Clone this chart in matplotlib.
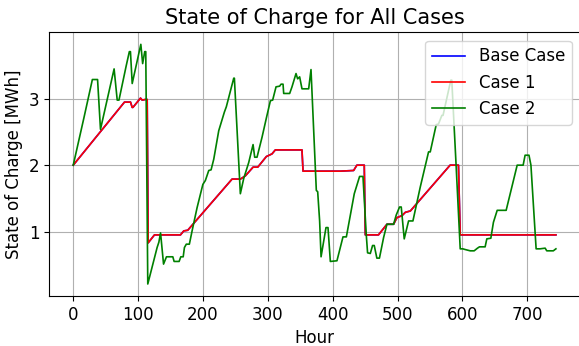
import matplotlib
matplotlib.use("Agg")
import matplotlib.pyplot as plt

# Breakpoints (hour, MWh)
case1_hours = [0, 79, 88.3, 90.9, 92, 103.7, 106.3, 111.4, 114, 115.5, 125.2, 165.3,
               170.4, 176.5, 244.8, 257.6, 265.4, 277.2, 284.4, 297.7, 306.4, 311.5,
               352.6, 354.2, 411.7, 432.2, 437.2, 448.6, 450.2, 470.5, 483.5, 493.8,
               499, 506.8, 511.9, 519.6, 580.9, 593.8, 596.5, 744]
case1_soc = [2.0, 2.95, 2.95, 2.87, 2.87, 3.01, 2.98, 2.99, 2.99, 0.83, 0.95, 0.95,
             1.01, 1.02, 1.79, 1.79, 1.84, 1.97, 1.97, 2.13, 2.17, 2.23,
             2.23, 1.91, 1.91, 1.92, 2.0, 2.0, 0.95, 0.95, 1.11, 1.11,
             1.21, 1.24, 1.29, 1.31, 2.0, 2.0, 0.95, 0.95]

base_hours = list(case1_hours)
base_soc = list(case1_soc)

case2_hours = [0, 16.4, 29.5, 37.5, 42, 63, 67.8, 70.5, 81.5, 86.5, 88.2, 90.9, 104.2,
               107, 110.2, 111.8, 114.9, 129.3, 132, 134.6, 139.2, 143.7, 153.5, 155.5,
               163.2, 165.8, 169.5, 171.4, 174.3, 179, 183.2, 190.9, 199.8, 203.7,
               208.9, 212.5, 216.6, 224.3, 233, 236, 247.4, 248.4, 257.6, 262.8,
               270.5, 277.2, 279.7, 283.3, 291, 297.7, 303.9, 307.4, 312.6, 318.2,
               320.3, 323.4, 324.4, 333.6, 337.2, 343.4, 345.9, 349, 352.6, 362.9,
               366.5, 374.7, 376.8, 379.8, 382, 389.6, 392.7, 396.3, 406.5, 411.7,
               415.8, 421, 433.2, 441.4, 446.6, 451.7, 453.7, 457.9, 461.4, 464,
               468, 472, 478.4, 483.5, 493.8, 497.9, 503, 505.6, 510.2, 516.9, 523.6,
               534.9, 547.7, 550.3, 559.5, 563, 568.2, 570, 582, 583.5, 590.3, 596.5,
               600.5, 604, 611.9, 618, 623.1, 626.2, 634.9, 637.5, 643.7, 647.7,
               653.5, 667.3, 684.3, 693.5, 696.5, 702.5, 705.5, 713.5, 719.6, 727.4,
               729.9, 740, 744]
case2_soc = [2.0, 2.71, 3.29, 3.29, 2.54, 3.45, 2.98, 2.98, 3.49, 3.71, 3.71, 3.23, 3.82,
             3.53, 3.71, 3.71, 0.21, 0.76, 0.84, 0.98, 0.51, 0.62, 0.62, 0.55,
             0.55, 0.62, 0.62, 0.76, 0.81, 0.81, 1.01, 1.36, 1.71, 1.77,
             1.92, 1.93, 2.09, 2.52, 2.8, 2.88, 3.31, 3.31, 1.57, 1.8,
             2.04, 2.31, 2.12, 2.12, 2.42, 2.71, 2.97, 2.98, 3.18, 3.19,
             3.22, 3.22, 3.08, 3.08, 3.18, 3.38, 3.30, 3.33, 3.15, 3.15,
             3.44, 1.62, 1.60, 1.16, 0.62, 1.06, 1.06, 0.55, 0.56, 0.76,
             0.92, 0.92, 1.57, 1.83, 1.83, 0.95, 0.68, 0.67, 0.79, 0.79,
             0.6, 0.6, 0.91, 1.11, 1.11, 1.25, 1.37, 1.37, 0.89, 1.16, 1.16,
             1.67, 2.2, 2.2, 2.61, 2.62, 2.75, 2.75, 3.28, 3.28, 1.97, 0.74,
             0.74, 0.73, 0.71, 0.71, 0.75, 0.77, 0.77, 0.89, 0.9, 1.14,
             1.32, 1.32, 2.0, 2.0, 2.15, 2.15, 2.0, 0.74, 0.74, 0.75,
             0.71, 0.71, 0.74]

fig = plt.figure(figsize=(5.79, 3.46), dpi=100)
ax = fig.add_axes([0.0848, 0.1445, 0.917, 0.762])

ax.plot(base_hours, base_soc, color="blue", lw=1.2, label="Base Case")
ax.plot(case1_hours, case1_soc, color="red", lw=1.2, label="Case 1")
ax.plot(case2_hours, case2_soc, color="green", lw=1.2, label="Case 2")

ax.set_xticks([0, 100, 200, 300, 400, 500, 600, 700])
ax.set_yticks([1, 2, 3])
ax.tick_params(labelsize=12)
ax.grid(True)
ax.set_xlabel("Hour", fontsize=12)
ax.set_ylabel("State of Charge [MWh]", fontsize=12)
ax.set_title("State of Charge for All Cases", fontsize=15)
ax.legend(loc="upper right", fontsize=12)

fig.savefig("out.png", dpi=100)
